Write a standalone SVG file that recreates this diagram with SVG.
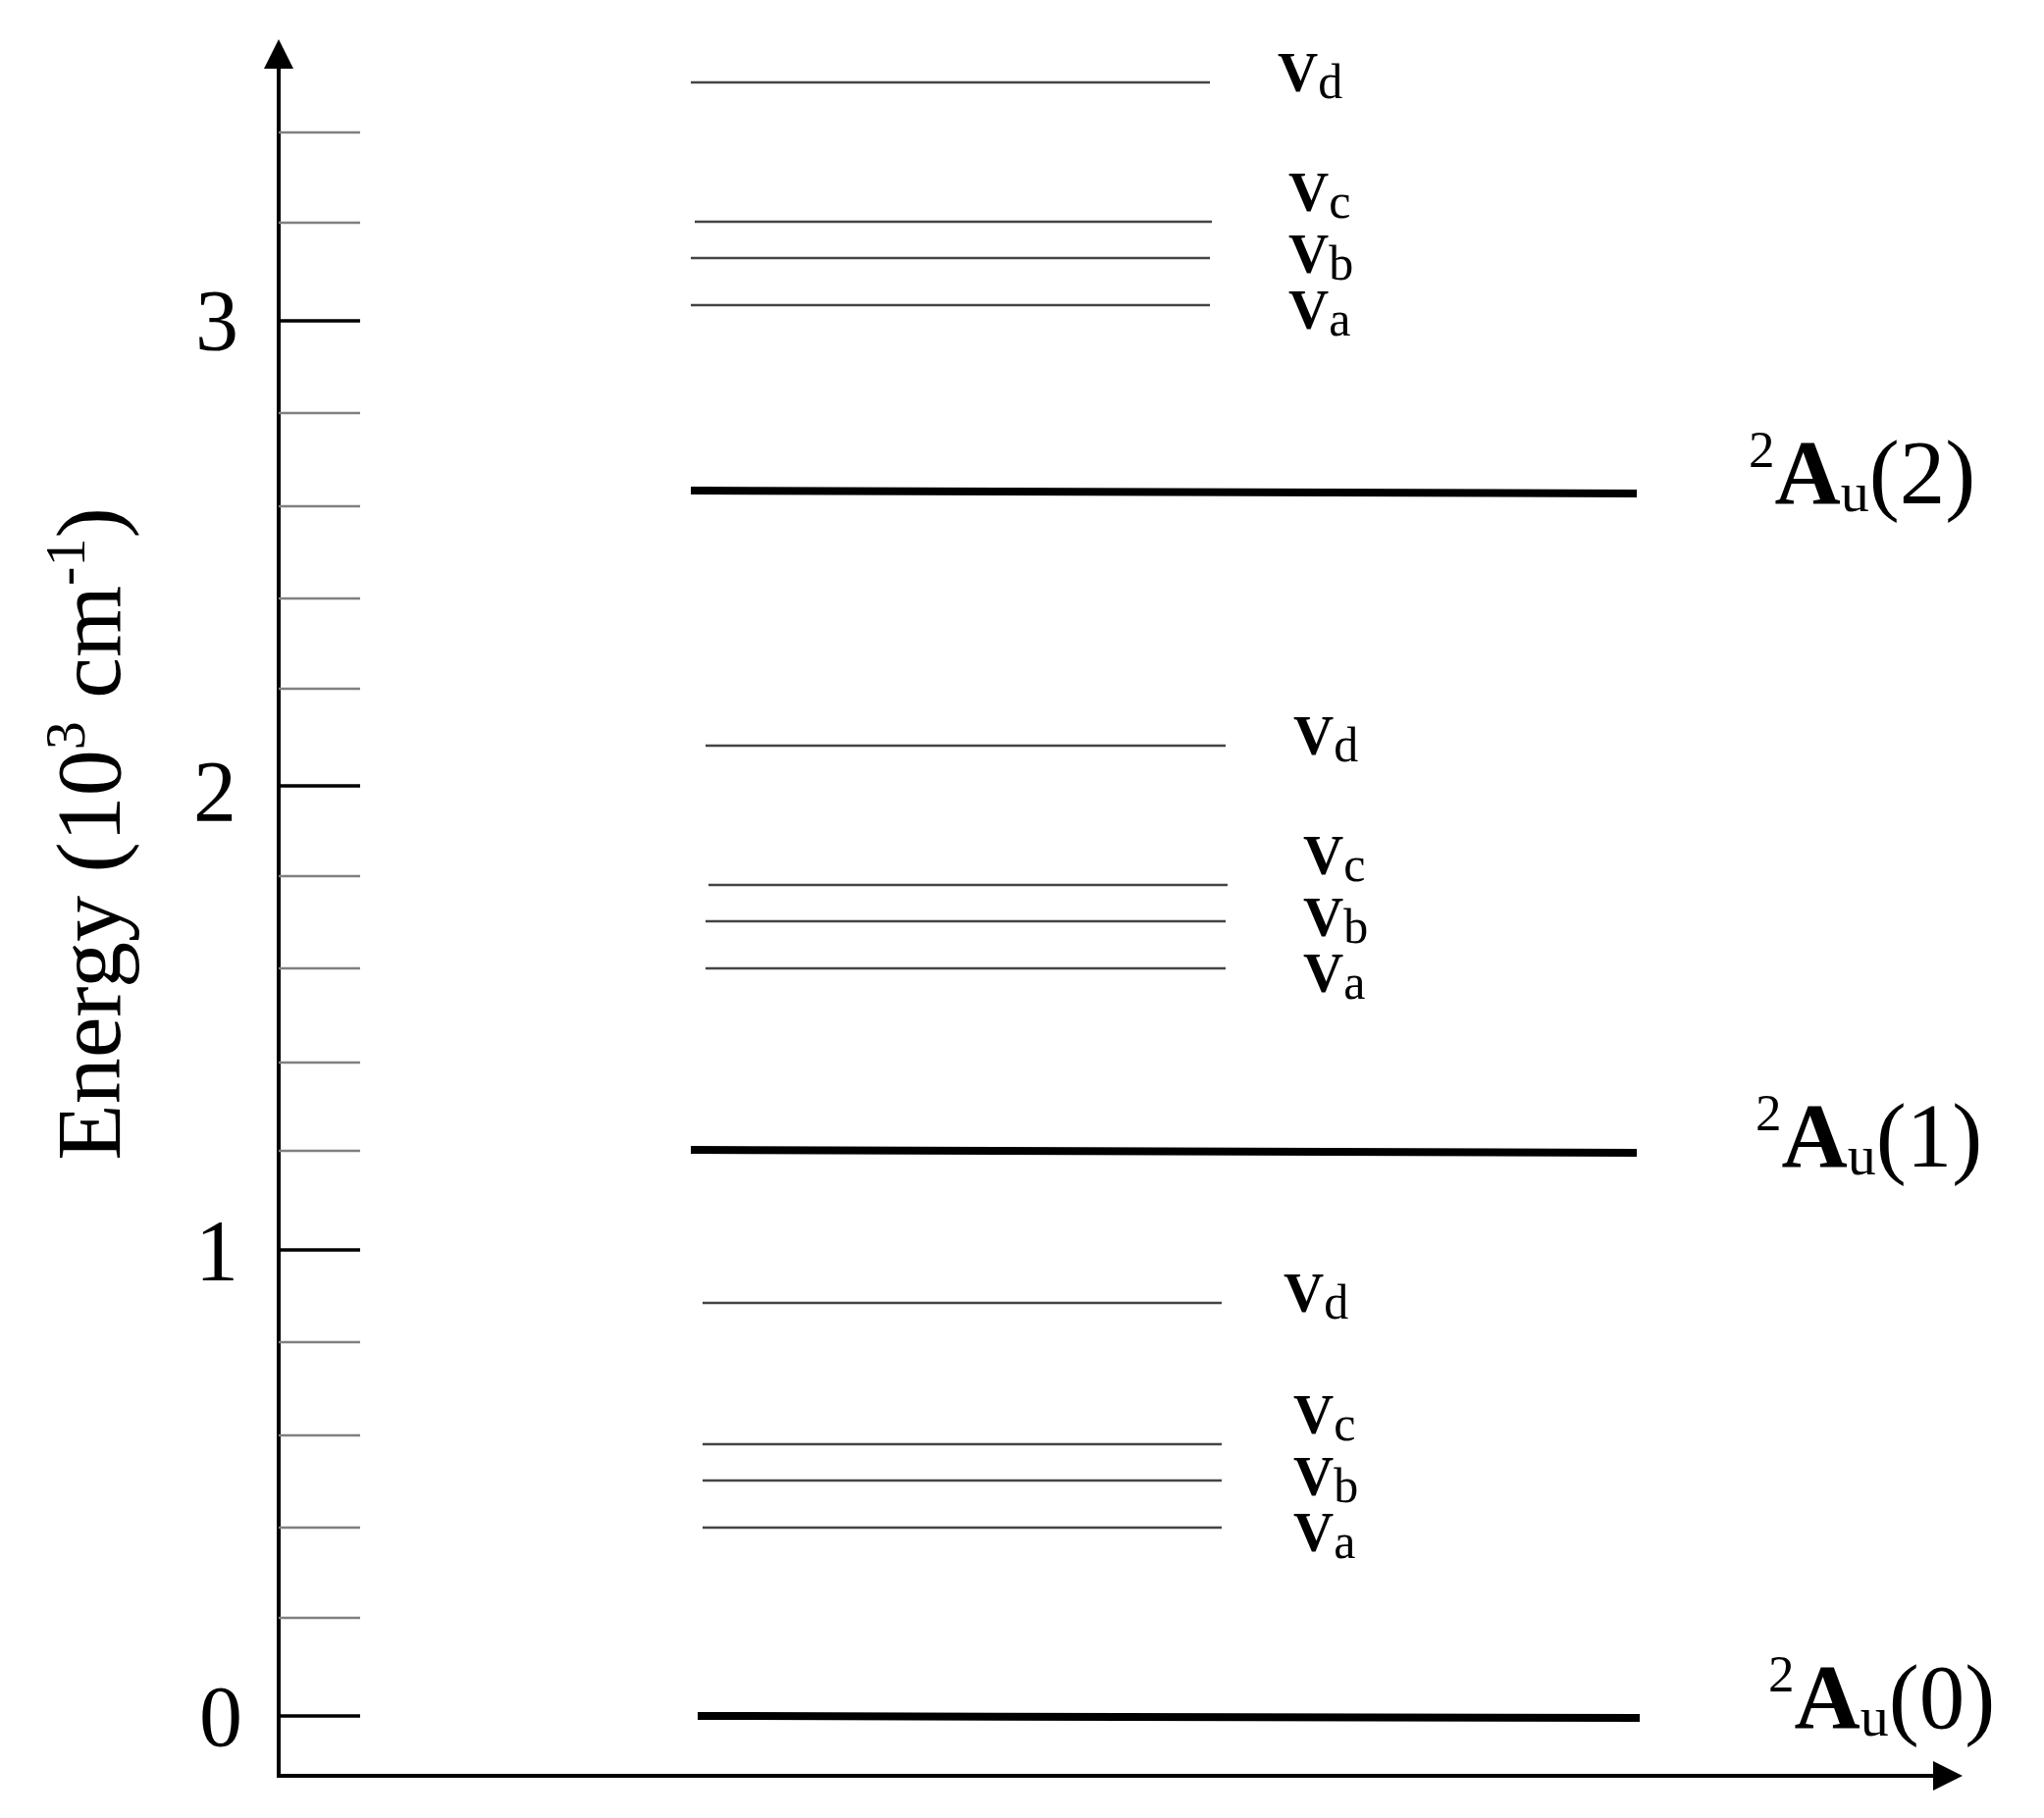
<svg xmlns="http://www.w3.org/2000/svg" width="2083" height="1853" viewBox="0 0 2083 1853">
<style>
text{font-family:"Liberation Serif","Times New Roman",serif;fill:#000}
.tick{font-size:88px;text-anchor:end}
.minor{stroke:#808080;stroke-width:2.5}
.major{stroke:#000;stroke-width:3.5}
.axis{stroke:#000;stroke-width:4;fill:none}
.lvl{stroke:#444;stroke-width:2.5}
.thick{stroke:#000;stroke-width:8}
.v{font-size:57px;font-weight:bold}
.sub{font-size:50px;font-weight:normal}
.au{font-size:93px}
</style>
<defs>
<marker id="arr" viewBox="0 0 30 30" refX="2" refY="15" markerWidth="30" markerHeight="30" markerUnits="userSpaceOnUse" orient="auto">
<path d="M0,0 L30,15 L0,30 Z" fill="#000"/>
</marker>
</defs>
<rect width="2083" height="1853" fill="#fff"/>
<g id="axes">
<line class="axis" x1="284" y1="1810" x2="284" y2="68" marker-end="url(#arr)"/>
<line class="axis" x1="282" y1="1810" x2="1972" y2="1810" marker-end="url(#arr)"/>
<line class="minor" x1="284" y1="135" x2="367" y2="135"/>
<line class="minor" x1="284" y1="227" x2="367" y2="227"/>
<line class="major" x1="284" y1="327" x2="367" y2="327"/>
<line class="minor" x1="284" y1="421" x2="367" y2="421"/>
<line class="minor" x1="284" y1="516" x2="367" y2="516"/>
<line class="minor" x1="284" y1="610" x2="367" y2="610"/>
<line class="minor" x1="284" y1="702" x2="367" y2="702"/>
<line class="major" x1="284" y1="801" x2="367" y2="801"/>
<line class="minor" x1="284" y1="893" x2="367" y2="893"/>
<line class="minor" x1="284" y1="987" x2="367" y2="987"/>
<line class="minor" x1="284" y1="1083" x2="367" y2="1083"/>
<line class="minor" x1="284" y1="1173" x2="367" y2="1173"/>
<line class="major" x1="284" y1="1274" x2="367" y2="1274"/>
<line class="minor" x1="284" y1="1368" x2="367" y2="1368"/>
<line class="minor" x1="284" y1="1463" x2="367" y2="1463"/>
<line class="minor" x1="284" y1="1557" x2="367" y2="1557"/>
<line class="minor" x1="284" y1="1649" x2="367" y2="1649"/>
<line class="major" x1="284" y1="1749" x2="367" y2="1749"/>
<text class="tick" x="243" y="356">3</text>
<text class="tick" x="241" y="836">2</text>
<text class="tick" x="243" y="1304">1</text>
<text class="tick" x="247" y="1779">0</text>
<text transform="translate(122,850) rotate(-90)" text-anchor="middle" font-size="94">Energy (10<tspan font-size="58" dy="-36">3</tspan><tspan dy="36"> cm</tspan><tspan font-size="58" dy="-36">-1</tspan><tspan dy="36">)</tspan></text>
</g>
<g id="state-Au0">
<line class="thick" x1="711" y1="1749" x2="1671" y2="1751"/>
<text class="au" x="1802" y="1761"><tspan font-size="53" dy="-37">2</tspan><tspan font-weight="bold" dy="37">A</tspan><tspan font-size="58" dy="8">u</tspan><tspan dy="-8">(0)</tspan></text>
</g>
<g id="group1">
<line class="lvl" x1="716" y1="1557" x2="1245" y2="1557"/>
<line class="lvl" x1="716" y1="1509" x2="1245" y2="1509"/>
<line class="lvl" x1="716" y1="1472" x2="1245" y2="1472"/>
<line class="lvl" x1="716" y1="1328" x2="1245" y2="1328"/>
<text class="v" x="1318" y="1581">V<tspan class="sub" dy="7">a</tspan></text>
<text class="v" x="1318" y="1524">V<tspan class="sub" dy="7">b</tspan></text>
<text class="v" x="1318" y="1461">V<tspan class="sub" dy="7">c</tspan></text>
<text class="v" x="1308" y="1337">V<tspan class="sub" dy="7">d</tspan></text>
</g>
<g id="state-Au1">
<line class="thick" x1="704" y1="1172" x2="1668" y2="1175"/>
<text class="au" x="1789" y="1189"><tspan font-size="53" dy="-37">2</tspan><tspan font-weight="bold" dy="37">A</tspan><tspan font-size="58" dy="8">u</tspan><tspan dy="-8">(1)</tspan></text>
</g>
<g id="group2">
<line class="lvl" x1="719" y1="987" x2="1249" y2="987"/>
<line class="lvl" x1="719" y1="939" x2="1249" y2="939"/>
<line class="lvl" x1="722" y1="902" x2="1251" y2="902"/>
<line class="lvl" x1="719" y1="760" x2="1249" y2="760"/>
<text class="v" x="1328" y="1011">V<tspan class="sub" dy="7">a</tspan></text>
<text class="v" x="1328" y="954">V<tspan class="sub" dy="7">b</tspan></text>
<text class="v" x="1328" y="891">V<tspan class="sub" dy="7">c</tspan></text>
<text class="v" x="1318" y="769">V<tspan class="sub" dy="7">d</tspan></text>
</g>
<g id="state-Au2">
<line class="thick" x1="704" y1="500" x2="1668" y2="503"/>
<text class="au" x="1782" y="513"><tspan font-size="53" dy="-37">2</tspan><tspan font-weight="bold" dy="37">A</tspan><tspan font-size="58" dy="8">u</tspan><tspan dy="-8">(2)</tspan></text>
</g>
<g id="group3">
<line class="lvl" x1="704" y1="311" x2="1233" y2="311"/>
<line class="lvl" x1="704" y1="263" x2="1233" y2="263"/>
<line class="lvl" x1="708" y1="226" x2="1235" y2="226"/>
<line class="lvl" x1="704" y1="84" x2="1233" y2="84"/>
<text class="v" x="1313" y="335">V<tspan class="sub" dy="7">a</tspan></text>
<text class="v" x="1313" y="278">V<tspan class="sub" dy="7">b</tspan></text>
<text class="v" x="1313" y="215">V<tspan class="sub" dy="7">c</tspan></text>
<text class="v" x="1302" y="93">V<tspan class="sub" dy="7">d</tspan></text>
</g>
</svg>
